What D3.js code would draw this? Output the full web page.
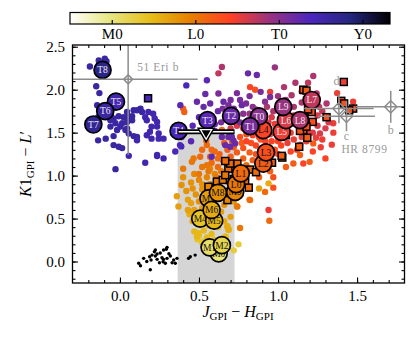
<!DOCTYPE html>
<html lang="en">
<head>
<meta charset="utf-8">
<title>colour-colour diagram</title>
<script src="https://cdn.jsdelivr.net/npm/d3@7"></script>
<style>
  body { margin: 0; background: #fff; }
  text { font-family: "Liberation Serif", "DejaVu Serif", serif; }
</style>
</head>
<body>
<script>
// spectral type code: M0 = 0, L0 = 10, T0 = 20, Y0 = 30
var blackDots = [
  [0.119,-0.02],[0.13,-0.05],[0.15,0.037],[0.188,0.056],[0.197,0.017],[0.192,-0.095],[0.218,0.114],
  [0.224,0.064],[0.235,0.025],[0.25,-0.014],[0.273,-0.002],[0.293,0.142],[0.276,0.025],[0.298,0.037],
  [0.224,0.134],[0.203,0.075],[0.235,0.087],[0.276,0.134],[0.298,0.165],[0.266,0.044],[0.319,0.064],
  [0.34,0.017],[0.35,-0.02],[0.33,-0.014],[0.361,0.037],[0.434,0.037],[0.445,0.056],[0.476,0.075],
  [0.287,-0.02],[0.255,0.1],[0.31,0.09],[0.17,0.0]];

var fieldM = [
  [0.52,0.22,4],[0.50,0.30,4],[0.49,0.26,4],[0.55,0.28,5],[0.47,0.35,5],[0.53,0.36,5],[0.58,0.32,5],
  [0.67,0.29,4],[0.69,0.37,5],[0.62,0.40,5],[0.56,0.42,5],[0.50,0.43,6],[0.46,0.47,6],[0.72,0.13,3],
  [0.68,0.41,6],[0.60,0.25,4],[0.75,0.2,3],[0.44,0.55,6],[0.48,0.52,6],[0.54,0.55,6],[0.66,0.47,6],
  [0.70,0.52,7],[0.64,0.58,7],[0.52,0.62,7],[0.47,0.60,7],[0.43,0.60,7],[0.37,0.64,7],
  [0.39,0.89,8],[0.45,0.68,7],[0.50,0.70,8],[0.55,0.66,8],[0.48,0.78,8],[0.52,0.84,8],[0.57,0.90,9],
  [0.45,0.92,8],[0.50,0.95,9],[0.42,0.82,8],[0.60,0.72,8],[0.66,0.66,8],[0.63,0.88,9],[0.68,0.93,9],
  [0.72,0.70,8],[0.74,0.64,9],[0.82,0.72,9],[0.88,0.85,7],[0.94,0.91,6],[0.55,0.98,9],[0.60,1.02,9],
  [0.47,1.02,9],[0.40,0.98,8],[0.36,0.76,7],[0.58,0.80,8],[0.54,0.76,8],[0.68,0.405,6],[0.686,0.37,6],
  [0.53,0.23,4],[0.497,0.33,5],[0.487,0.29,5],[0.666,0.29,5],
  [0.52,0.90,8],[0.57,1.08,9],[0.46,0.85,8],[0.43,0.72,7]];

var fieldL = [
  [0.40,1.08,10],[0.455,1.16,10],[0.466,1.2,10],[0.508,1.22,11],[0.55,1.355,11],[0.546,1.405,11],
  [0.645,1.53,11],[0.40,1.78,12],[0.407,1.74,12],[0.52,1.10,10],[0.56,1.05,10],[0.50,1.02,10],
  [0.62,1.10,11],[0.58,1.15,11],[0.65,1.18,11],[0.63,1.25,12],[0.70,1.22,12],[0.68,1.30,12],
  [0.74,1.27,12],[0.78,1.20,12],[0.80,1.12,11],[0.76,1.05,11],[0.84,1.18,12],[0.86,1.25,13],
  [0.90,1.10,12],[0.92,1.20,13],[0.95,1.05,12],[0.97,0.98,13],[0.88,0.98,12],[0.72,0.98,10],
  [0.66,1.00,10],[0.70,1.08,11],[0.918,0.81,11],[0.97,0.86,13],[0.945,0.475,11],[0.76,0.39,10],
  [0.743,0.64,10],[0.823,0.715,11],[1.097,1.14,12],[1.2,1.16,12],[1.139,1.24,12],[1.223,1.375,12],
  [0.60,1.28,11],[0.66,1.38,12],[0.72,1.33,12],[0.78,1.32,13],[0.83,1.38,13],[0.76,1.45,13],
  [0.80,1.48,13],[0.58,1.30,11],[0.52,1.30,11],[0.62,1.20,11],[0.98,1.30,13],[1.05,1.10,12],
  [0.89,1.42,13],[0.57,1.22,11],[0.64,1.05,10],[0.74,1.12,11],[0.82,1.27,12],[0.69,1.15,11],
  [0.55,1.12,10],[0.61,0.98,10],[0.77,1.38,12],[0.71,1.40,12],
  [0.94,0.6,15],[1.16,1.14,14],[1.265,1.49,16],[1.349,1.61,15],[1.374,1.96,15],[1.475,1.86,15],
  [0.95,1.975,15],[0.855,2.0,13],[0.823,2.03,14],[0.88,1.45,14],[0.92,1.40,14],[0.95,1.48,15],
  [1.00,1.40,14],[1.02,1.35,14],[1.06,1.38,15],[1.10,1.42,15],[1.08,1.50,15],[1.12,1.30,14],
  [1.15,1.45,15],[1.18,1.40,15],[1.22,1.50,16],[1.25,1.58,16],[1.28,1.42,15],[1.30,1.55,16],
  [1.20,1.62,16],[1.12,1.60,16],[1.05,1.58,16],[0.98,1.60,15],[0.92,1.55,15],[0.85,1.55,15],
  [0.82,1.62,16],[0.88,1.62,16],[0.96,1.68,16],[1.02,1.70,17],[1.10,1.70,17],[1.16,1.68,16],
  [1.25,1.70,16],[1.30,1.68,16],[1.35,1.50,15],[0.78,1.55,15],[0.74,1.58,16],[0.70,1.55,16],
  [1.00,1.25,14],[1.08,1.28,14],[0.94,1.32,14],[1.34,1.36,15],[1.22,1.28,14],[1.27,1.33,15],
  [1.3,1.2,14],[0.86,1.35,14],[0.90,1.30,14],[0.96,1.40,14],[1.03,1.45,15],[1.14,1.36,15],
  [1.19,1.50,15],[1.24,1.44,15],[1.09,1.62,16],[0.94,1.62,16],[0.80,1.40,14],[0.84,1.47,14],
  [1.32,1.62,16],[1.28,1.75,17],[1.18,1.72,17],[1.06,1.76,17],[0.99,1.55,15],
  [0.645,2.265,18],[0.98,2.26,19],[0.623,2.19,17],[1.038,2.03,18],[1.223,2.16,18],[1.19,2.08,17],
  [1.11,2.08,18],[1.0,1.925,19],[1.086,1.935,18],[1.244,1.955,18],[1.307,1.84,18],[0.93,1.80,18],
  [0.97,1.75,18],[1.10,1.80,18],[1.05,1.88,19],[1.15,1.85,18],[0.86,1.77,19],[1.2,1.78,17],
  [0.90,1.72,18],[1.0,1.80,18],[0.82,1.72,19],[1.15,1.98,18],[1.26,1.80,17]];

var fieldT = [
  [-0.19,2.27,26],[-0.134,2.34,26],[-0.096,2.36,26],[-0.085,2.33,26],[-0.15,2.04,26],[-0.13,1.96,26],
  [-0.144,1.82,26],[-0.138,1.68,26],[-0.06,1.70,26],[-0.04,1.665,26],[-0.008,1.69,26],[0.024,1.68,26],
  [0.056,1.68,26],[0.077,1.69,26],[0.045,1.74,26],[0.087,1.76,26],[0.108,1.76,26],[0.13,1.78,26],
  [0.14,1.74,26],[0.077,1.645,26],[0.014,1.61,26],[-0.028,1.61,26],[-0.06,1.57,26],[-0.018,1.53,26],
  [0.003,1.57,26],[0.035,1.53,26],[0.056,1.49,26],[0.087,1.46,26],[0.108,1.45,26],[-0.04,1.46,26],
  [-0.138,1.41,26],[-0.09,1.43,26],[-0.04,1.355,26],[-0.008,1.335,26],[0.014,1.32,26],[0.045,1.55,26],
  [0.16,1.68,25],[0.17,1.645,25],[0.21,1.72,25],[0.22,1.665,25],[0.235,1.625,25],[0.235,1.57,25],
  [0.2,1.57,25],[0.19,1.51,25],[0.245,1.49,25],[0.276,1.43,25],[0.2,1.43,25],[0.17,1.47,25],
  [0.108,1.41,25],[0.18,1.74,25],[0.045,1.625,26],[-0.06,1.645,26],[0.056,1.23,25],[-0.028,1.075,26],
  [0.16,1.15,25],[0.235,1.227,25],[0.276,1.2,25],[0.245,1.43,25],[0.235,1.24,25],[0.388,1.34,24],
  [0.42,2.05,24],[0.55,2.11,23],[0.38,1.355,24],[0.39,1.45,23],[0.35,1.28,24],
  [0.81,2.19,22],[0.866,2.17,22],[0.623,1.955,21],[0.655,1.86,22],[0.686,1.82,21],[0.74,1.96,21],
  [0.76,1.88,21],[0.771,1.82,22],[0.798,1.84,21],[0.82,1.925,21],[0.89,1.975,21],[0.571,1.84,22],
  [0.529,1.8,22],[0.487,1.86,22],[0.382,1.82,23],[0.95,1.915,21],[0.918,1.86,20],[0.58,1.22,23],
  [0.645,1.45,22],[0.686,1.45,22],[0.718,1.41,22],[0.666,1.355,22],[0.697,1.335,22],[0.729,1.375,22],
  [0.708,1.45,22],[0.60,1.60,22],[0.64,1.62,21],[0.76,1.62,21],[0.72,1.78,21],[0.84,1.80,20],
  [0.62,1.75,22],[0.68,1.70,21],[0.50,1.68,23],[0.46,1.58,23],[0.45,1.40,23],
  [0.58,1.68,22],[0.65,1.78,21],[0.78,1.72,20],[0.70,1.88,21],[0.54,1.95,22],[0.60,1.52,22]];

// young objects (squares)
var young = [
  [0.178,1.90,24],[0.613,0.93,10],[0.651,0.95,10],[0.686,1.08,11],[0.697,1.14,11],[0.743,1.14,11],
  [0.792,0.93,11],[0.815,0.86,11],[0.68,0.715,9],[0.66,0.81,9],[0.823,1.07,11],[0.861,1.04,11],
  [0.886,1.16,12],[1.027,1.21,12],[0.962,1.15,12],[1.134,1.335,12],[1.16,1.53,13],[0.60,0.85,9],
  [0.666,1.005,10],[0.666,1.17,11],[1.023,1.23,12],[1.16,2.0,12],[1.18,1.99,12],[1.40,1.87,13],
  [1.475,1.78,13],[1.307,1.68,13],[1.219,1.625,13],[1.213,1.74,13],[1.19,1.77,13],[1.139,1.52,13],
  [1.416,2.09,15],[1.45,1.76,13],[1.418,1.84,13],[1.185,1.44,12],[1.18,1.57,13],[1.05,1.47,12],
  [1.16,1.69,13],[0.72,0.96,10],[0.56,0.87,9]];

// spectral standards (big circles)
var stdNames = ['M0','M1','M2','M4','M5','M7','M6','M8','M9','L0','L1','L2','L3','L4','L5','L6','L8','L9','L7',
                'T0','T1','T2','T3','T4','T5','T6','T7','T8'];
var stdSpt   = [0,1,2,4,5,7,6,8,9,10,11,12,13,14,15,16,18,19,17,20,21,22,23,24,25,26,27,28];
var stdX = [0.625,0.567,0.645,0.508,0.596,0.56,0.58,0.62,0.729,0.735,0.765,0.907,0.924,0.907,1.023,1.05,1.139,1.033,1.213,
            0.88,0.823,0.703,0.554,0.371,-0.025,-0.093,-0.168,-0.11];
var stdY = [0.095,0.165,0.19,0.50,0.475,0.735,0.60,0.80,0.81,0.90,1.025,1.14,1.27,1.53,1.51,1.645,1.645,1.80,1.88,
            1.69,1.575,1.695,1.645,1.52,1.86,1.75,1.595,2.23];

// planets: [x, y, xerr, yerr]
var eri51 = [0.052, 2.12, 0.44, 0.88];
var hr8799Names = ['b','c','d'];
var hr8799 = [[1.713,1.80,0.22,0.185],[1.433,1.69,0.18,0.175],[1.385,1.78,0.22,0.17]];
var limitPoint = [0.545, 1.51, 0.18];

var cbTicks = [0, 10, 20, 30];
var cbLabels = ['M0', 'L0', 'T0', 'Y0'];

var W = 416, H = 338;
var svg = d3.select('body').append('svg').attr('width', W).attr('height', H);

var xScale = d3.scaleLinear().domain([-0.3, 1.8]).range([72.5, 404.5]);
var yScale = d3.scaleLinear().domain([-0.25, 2.52]).range([283, 45]);

// CMRmap, reversed along spectral type
var cmr = d3.scaleLinear()
  .domain([0, 0.125, 0.25, 0.375, 0.5, 0.625, 0.75, 0.875, 1])
  .range(['#000000', '#262680', '#4d26bf', '#993380', '#ff4026', '#e68000', '#e6bf1a', '#e6e680', '#ffffff'])
  .interpolate(d3.interpolateRgb);
var sptMin = -5, sptMax = 33.3;
function sptColor(s) { return cmr(1 - (s - sptMin) / (sptMax - sptMin)); }

// colour bar
var cbScale = d3.scaleLinear().domain([sptMin, sptMax]).range([70, 390]);
var defs = svg.append('defs');
var grad = defs.append('linearGradient').attr('id', 'cbgrad');
d3.range(0, 41).forEach(function (i) {
  grad.append('stop').attr('offset', i / 40).attr('stop-color', sptColor(sptMin + i / 40 * (sptMax - sptMin)));
});
svg.append('rect').attr('x', 70).attr('y', 12.5).attr('width', 320).attr('height', 11.5)
  .attr('fill', 'url(#cbgrad)').attr('stroke', '#000').attr('stroke-width', 1.2);
var cbAxis = svg.append('g').attr('transform', 'translate(0,24)')
  .call(d3.axisBottom(cbScale).tickValues(cbTicks).tickFormat(function (d, i) { return cbLabels[i]; })
    .tickSize(-4).tickPadding(4.5));
cbAxis.select('.domain').remove();
cbAxis.selectAll('text').style('font-size', '15px').style('font-family', '"Liberation Serif", serif');
cbAxis.selectAll('line').attr('stroke-width', 1.2);

// plot
defs.append('clipPath').attr('id', 'plotclip').append('rect')
  .attr('x', 72.5).attr('y', 45).attr('width', 332).attr('height', 238);
var plot = svg.append('g').attr('clip-path', 'url(#plotclip)');

// shaded region below upper limit
plot.append('rect')
  .attr('x', xScale(limitPoint[0] - limitPoint[2]))
  .attr('width', xScale(limitPoint[0] + limitPoint[2]) - xScale(limitPoint[0] - limitPoint[2]))
  .attr('y', yScale(limitPoint[1]))
  .attr('height', yScale(-0.25) - yScale(limitPoint[1]))
  .attr('fill', '#d5d5d5');

plot.append('g').selectAll('circle').data(blackDots).enter().append('circle')
  .attr('cx', function (d) { return xScale(d[0]); })
  .attr('cy', function (d) { return yScale(d[1]); })
  .attr('r', 1.7).attr('fill', '#000');

var field = fieldM.concat(fieldL, fieldT);
plot.append('g').selectAll('circle').data(field).enter().append('circle')
  .attr('cx', function (d) { return xScale(d[0]); })
  .attr('cy', function (d) { return yScale(d[1]); })
  .attr('r', 3.2).attr('fill', function (d) { return sptColor(d[2]); });

plot.append('g').selectAll('rect').data(young).enter().append('rect')
  .attr('x', function (d) { return xScale(d[0]) - 3.5; })
  .attr('y', function (d) { return yScale(d[1]) - 3.5; })
  .attr('width', 7).attr('height', 7)
  .attr('fill', function (d) { return sptColor(d[2]); })
  .attr('stroke', '#000').attr('stroke-width', 1.5);

var stds = stdNames.map(function (n, i) { return { name: n, spt: stdSpt[i], x: stdX[i], y: stdY[i] }; });
var sg = plot.append('g').selectAll('g').data(stds).enter().append('g')
  .attr('transform', function (d) { return 'translate(' + xScale(d.x) + ',' + yScale(d.y) + ')'; });
sg.append('circle').attr('r', 8.5).attr('fill', function (d) { return sptColor(d.spt); })
  .attr('stroke', '#000').attr('stroke-width', 1.7);
sg.append('text').attr('text-anchor', 'middle').attr('dy', '0.35em')
  .style('font-size', '9.5px')
  .attr('fill', function (d) { return d.spt >= 15 ? '#f0e8f0' : '#111'; })
  .text(function (d) { return d.name; });

// 51 Eri b
var grey = '#8c8c8c';
var eg = plot.append('g').attr('stroke', grey).attr('stroke-width', 1.5).attr('fill', 'none');
eg.append('line').attr('x1', xScale(eri51[0] - eri51[2])).attr('x2', xScale(eri51[0] + eri51[2]))
  .attr('y1', yScale(eri51[1])).attr('y2', yScale(eri51[1]));
eg.append('line').attr('x1', xScale(eri51[0])).attr('x2', xScale(eri51[0]))
  .attr('y1', yScale(eri51[1] - eri51[3])).attr('y2', yScale(eri51[1] + eri51[3]));
eg.append('path').attr('d', d3.symbol().type(d3.symbolSquare).size(40)())
  .attr('transform', 'translate(' + xScale(eri51[0]) + ',' + yScale(eri51[1]) + ') rotate(45)');
plot.append('text').attr('x', xScale(eri51[0]) + 9).attr('y', yScale(eri51[1]) - 8)
  .attr('fill', '#999').style('font-size', '11.5px').style('letter-spacing', '0.6px').text('51 Eri b');

// HR 8799
var hg = plot.append('g').attr('stroke', grey).attr('stroke-width', 1.5).attr('fill', 'none');
hr8799.forEach(function (p) {
  hg.append('line').attr('x1', xScale(p[0] - p[2])).attr('x2', xScale(p[0] + p[2]))
    .attr('y1', yScale(p[1])).attr('y2', yScale(p[1]));
  hg.append('line').attr('x1', xScale(p[0])).attr('x2', xScale(p[0]))
    .attr('y1', yScale(p[1] - p[3])).attr('y2', yScale(p[1] + p[3]));
  hg.append('path').attr('d', d3.symbol().type(d3.symbolSquare).size(75)())
    .attr('transform', 'translate(' + xScale(p[0]) + ',' + yScale(p[1]) + ') rotate(45)');
});
var hrLabelPos = [[0, 23], [0, 20], [-2.5, -28]];
hr8799.forEach(function (p, i) {
  plot.append('text').attr('x', xScale(p[0]) + hrLabelPos[i][0]).attr('y', yScale(p[1]) + hrLabelPos[i][1] + 4)
    .attr('text-anchor', 'middle').attr('fill', '#999').style('font-size', '12px').text(hr8799Names[i]);
});
plot.append('text').attr('x', xScale(hr8799[1][0]) - 5).attr('y', yScale(hr8799[1][1]) + 37)
  .attr('fill', '#999').style('font-size', '11.5px').style('letter-spacing', '0.6px').text('HR 8799');

// upper-limit point
var lg = plot.append('g');
lg.append('line').attr('x1', xScale(limitPoint[0] - limitPoint[2])).attr('x2', xScale(limitPoint[0] + limitPoint[2]))
  .attr('y1', yScale(limitPoint[1])).attr('y2', yScale(limitPoint[1]))
  .attr('stroke', '#000').attr('stroke-width', 5);
lg.append('line').attr('x1', xScale(limitPoint[0] - limitPoint[2]) + 1).attr('x2', xScale(limitPoint[0] + limitPoint[2]) - 1)
  .attr('y1', yScale(limitPoint[1])).attr('y2', yScale(limitPoint[1]))
  .attr('stroke', '#fff').attr('stroke-width', 1.6);
var tri = d3.symbol().type(d3.symbolTriangle).size(55)();
var triT = 'translate(' + xScale(limitPoint[0]) + ',' + (yScale(limitPoint[1]) + 1) + ') rotate(180)';
lg.append('path').attr('d', tri).attr('transform', triT).attr('fill', '#000').attr('stroke', '#000').attr('stroke-width', 4.2).attr('stroke-linejoin', 'miter');
lg.append('path').attr('d', tri).attr('transform', triT).attr('fill', '#000').attr('stroke', '#fff').attr('stroke-width', 1.3);

// axes
function styleAxis(g) {
  g.select('.domain').remove();
  g.selectAll('line').attr('stroke', '#000').attr('stroke-width', 1.1);
  g.selectAll('text').style('font-size', '15px').style('font-family', '"Liberation Serif", serif');
}
var fmt = d3.format('.1f');
var xMajor = [0, 0.5, 1.0, 1.5];
var yMajor = [0, 0.5, 1.0, 1.5, 2.0, 2.5];
var xMinor = d3.range(-2, 18).map(function (v) { return v / 10; });
var yMinor = d3.range(-2, 26).map(function (v) { return v / 10; });

svg.append('g').attr('transform', 'translate(0,283)')
  .call(d3.axisBottom(xScale).tickValues(xMajor).tickFormat(fmt).tickSize(-5.5).tickPadding(7)).call(styleAxis);
svg.append('g').attr('transform', 'translate(0,283)')
  .call(d3.axisBottom(xScale).tickValues(xMinor).tickFormat('').tickSize(-3)).call(styleAxis);
svg.append('g').attr('transform', 'translate(0,45)')
  .call(d3.axisTop(xScale).tickValues(xMajor).tickFormat('').tickSize(-5.5)).call(styleAxis);
svg.append('g').attr('transform', 'translate(0,45)')
  .call(d3.axisTop(xScale).tickValues(xMinor).tickFormat('').tickSize(-3)).call(styleAxis);
svg.append('g').attr('transform', 'translate(72.5,0)')
  .call(d3.axisLeft(yScale).tickValues(yMajor).tickFormat(fmt).tickSize(-5.5).tickPadding(7.5)).call(styleAxis);
svg.append('g').attr('transform', 'translate(72.5,0)')
  .call(d3.axisLeft(yScale).tickValues(yMinor).tickFormat('').tickSize(-3)).call(styleAxis);
svg.append('g').attr('transform', 'translate(404.5,0)')
  .call(d3.axisRight(yScale).tickValues(yMajor).tickFormat('').tickSize(-5.5)).call(styleAxis);
svg.append('g').attr('transform', 'translate(404.5,0)')
  .call(d3.axisRight(yScale).tickValues(yMinor).tickFormat('').tickSize(-3)).call(styleAxis);

svg.append('rect').attr('x', 72.5).attr('y', 45).attr('width', 332).attr('height', 238)
  .attr('fill', 'none').attr('stroke', '#000').attr('stroke-width', 1.3);

// axis labels
var xl = svg.append('text').attr('x', 238).attr('y', 317).attr('text-anchor', 'middle').style('font-size', '16px');
xl.append('tspan').style('font-style', 'italic').text('J');
xl.append('tspan').attr('dy', 3).style('font-size', '11px').text('GPI');
xl.append('tspan').attr('dy', -3).text(' \u2212 ');
xl.append('tspan').style('font-style', 'italic').text('H');
xl.append('tspan').attr('dy', 3).style('font-size', '11px').text('GPI');

var yl = svg.append('text').attr('transform', 'translate(31,164) rotate(-90)').attr('text-anchor', 'middle').style('font-size', '16px');
yl.append('tspan').style('font-style', 'italic').text('K');
yl.append('tspan').text('1');
yl.append('tspan').attr('dy', 3).style('font-size', '11px').text('GPI');
yl.append('tspan').attr('dy', -3).text(' \u2212 ');
yl.append('tspan').style('font-style', 'italic').text('L');
yl.append('tspan').text('\u2032');
</script>
</body>
</html>
